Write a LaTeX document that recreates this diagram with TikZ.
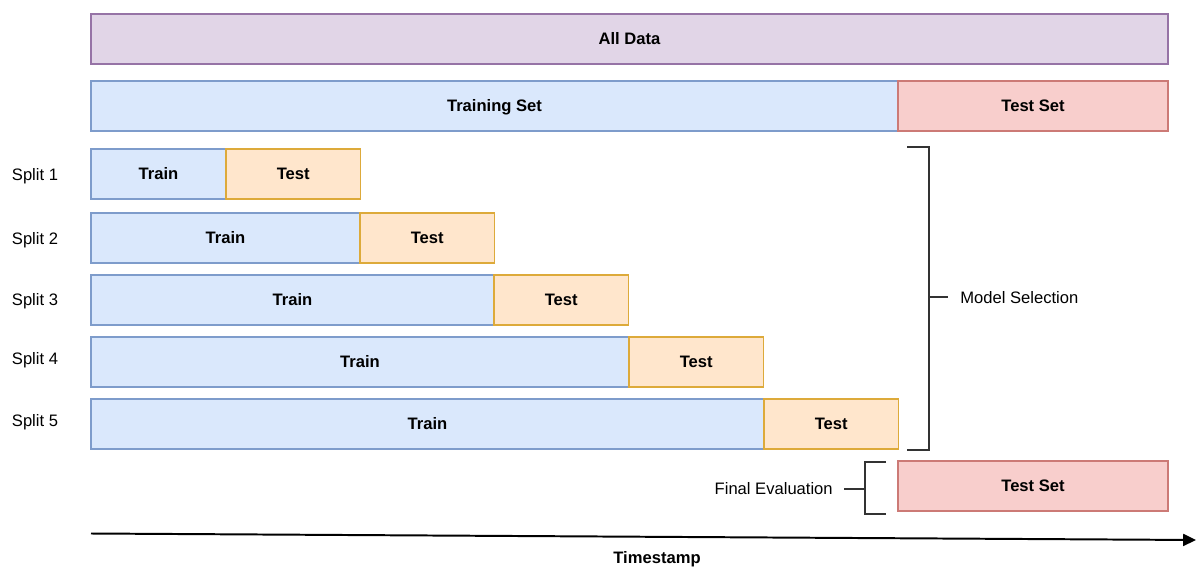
\documentclass[tikz,border=0pt]{standalone}
\usepackage{fontspec}
\setmainfont{Liberation Sans}
\usetikzlibrary{arrows.meta,positioning}
\definecolor{dataline}{HTML}{9673A6}
\definecolor{datafill}{HTML}{E1D5E7}
\definecolor{trainline}{HTML}{7E9CCB}
\definecolor{trainfill}{HTML}{DAE8FC}
\definecolor{testline}{HTML}{DDAA3A}
\definecolor{testfill}{HTML}{FFE6CC}
\definecolor{holdline}{HTML}{CC7A76}
\definecolor{holdfill}{HTML}{F8CECC}
\tikzset{
  bar/.style={draw,line width=0.9pt,anchor=west,inner sep=0pt,outer sep=0pt,minimum height=12.5mm,
    text height=1.6ex,text depth=0.2ex,font=\bfseries\fontsize{11.8}{14}\selectfont},
  alldata/.style={bar,draw=dataline,fill=datafill},
  trainbar/.style={bar,draw=trainline,fill=trainfill},
  testbar/.style={bar,draw=testline,fill=testfill,minimum width=33.6mm},
  holdout/.style={bar,draw=holdline,fill=holdfill,minimum width=67.5mm},
  caption/.style={inner sep=0pt,font=\fontsize{11.8}{14}\selectfont},
  bracket/.style={draw=black!80,line width=1pt},
  timeline/.style={-{Triangle[length=3.2mm,width=3mm]},line width=1.4pt,draw=black}
}

\begin{document}
\begin{tikzpicture}[x=0.25mm,y=-0.25mm]
  \useasboundingbox (0,0) rectangle (1196,568);

  % full data and the first cut
  \node (all) [alldata,minimum width=269.25mm] at (91,39) {All Data};
  \node (trainset) [trainbar,minimum width=201.75mm] at (91,106) {Training Set};
  \node (testset) [holdout,right=0pt of trainset] {Test Set};

  % expanding window splits
  \node (tr1) [trainbar,minimum width=33.75mm] at (91,174) {Train};
  \node (ts1) [testbar,right=0pt of tr1] {Test};
  \node (tr2) [trainbar,minimum width=67.25mm] at (91,238) {Train};
  \node (ts2) [testbar,right=0pt of tr2] {Test};
  \node (tr3) [trainbar,minimum width=100.75mm] at (91,300) {Train};
  \node (ts3) [testbar,right=0pt of tr3] {Test};
  \node (tr4) [trainbar,minimum width=134.5mm] at (91,362) {Train};
  \node (ts4) [testbar,right=0pt of tr4] {Test};
  \node (tr5) [trainbar,minimum width=168.25mm] at (91,424) {Train};
  \node (ts5) [testbar,right=0pt of tr5] {Test};

  \node (s1) [caption] at (35,176) {Split 1};
  \node (s2) [caption] at (35,240) {Split 2};
  \node (s3) [caption] at (35,301) {Split 3};
  \node (s4) [caption] at (35,360) {Split 4};
  \node (s5) [caption] at (35,422) {Split 5};

  % model selection bracket
  \draw[bracket] (907,147) -- (929,147) -- (929,450) -- (907,450);
  \draw[bracket] (929,297) -- (948,297);
  \node (modelsel) [caption,anchor=west] at (960,298) {Model Selection};

  % final evaluation on the held-out set
  \node (final) [holdout] at (898,486) {Test Set};
  \draw[bracket] (886,462) -- (865,462) -- (865,514) -- (886,514);
  \draw[bracket] (865,489) -- (844,489);
  \node (finaleval) [caption,anchor=east] at (833,489) {Final Evaluation};

  % time axis
  \coordinate (t0) at (91,533.5);
  \coordinate (t1) at (1196,540);
  \draw[timeline] (t0) -- (t1);
  \node (stamp) [caption,font=\bfseries\fontsize{11.8}{14}\selectfont] at (657,559) {Timestamp};
\end{tikzpicture}
\end{document}
